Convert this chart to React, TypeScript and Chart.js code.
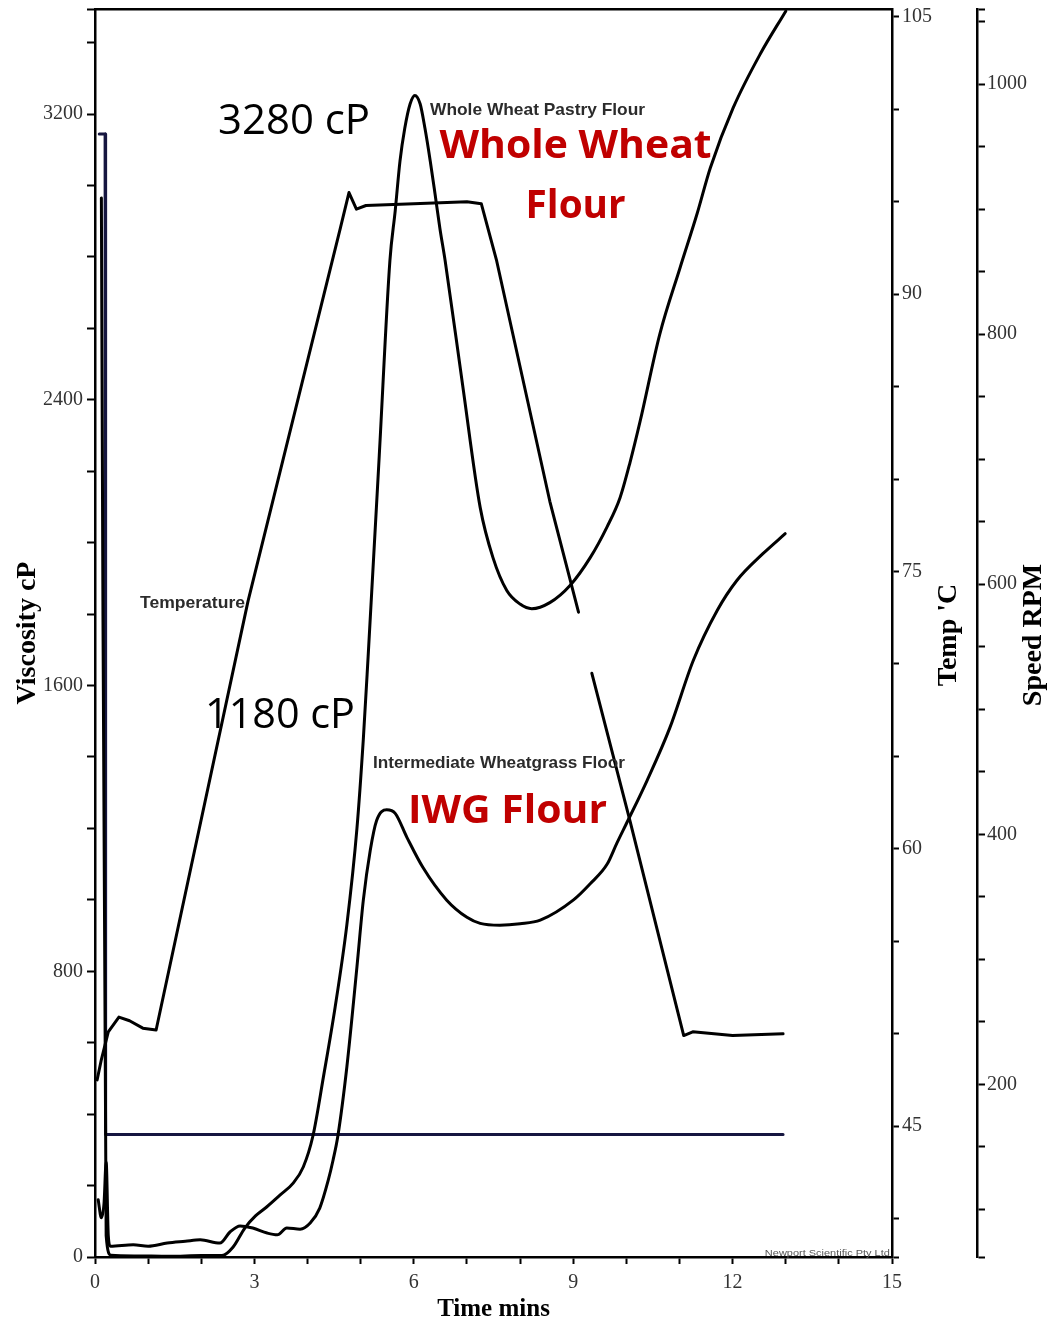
import React, { useEffect, useRef } from "react";
import { Chart, registerables } from "chart.js";

Chart.register(...registerables);

// ---------- data ----------
const timeTickLabels = [0, 3, 6, 9, 12, 15];
const viscTickLabels = [0, 800, 1600, 2400, 3200];
const tempTickLabels = [45, 60, 75, 90, 105];
const speedTickLabels = [200, 400, 600, 800, 1000];

// Whole Wheat Pastry Flour viscosity (cP) vs time (min)
const wwTime = [0.12, 0.21, 0.3, 0.8, 1.4, 2.0, 2.39, 2.6, 2.82, 3.02, 3.23, 3.48, 3.73, 3.92, 4.1, 4.3, 4.52, 4.74, 4.93, 5.05, 5.14, 5.35, 5.55, 5.65, 5.74, 5.83, 5.93, 6.02, 6.12, 6.21, 6.31, 6.4, 6.49, 6.59, 6.92, 7.25, 7.49, 7.75, 8.0, 8.22, 8.56, 8.94, 9.32, 9.64, 9.88, 10.07, 10.26, 10.63, 11.01, 11.33, 11.58, 12.01, 12.52, 13.0];
const wwVisc = [2965, 60, 5, 3, 2, 4, 4, 28, 81, 115, 140, 173, 207, 252, 338, 505, 700, 930, 1200, 1450, 1680, 2244, 2789, 2929, 3068, 3160, 3228, 3252, 3228, 3160, 3068, 2976, 2881, 2789, 2440, 2098, 1958, 1866, 1828, 1815, 1832, 1880, 1958, 2045, 2125, 2225, 2340, 2584, 2769, 2920, 3049, 3217, 3368, 3488];

// Intermediate Wheatgrass flour viscosity (cP) vs time (min)
const iwgTime = [0.06, 0.12, 0.17, 0.21, 0.25, 0.29, 0.72, 1.0, 1.36, 1.7, 1.98, 2.35, 2.54, 2.73, 2.97, 3.24, 3.43, 3.61, 3.86, 4.05, 4.23, 4.39, 4.48, 4.57, 4.74, 4.93, 5.05, 5.18, 5.3, 5.49, 5.65, 5.87, 6.17, 6.62, 7.0, 7.25, 7.62, 8.0, 8.38, 9.0, 9.32, 9.64, 9.82, 10.03, 10.39, 10.82, 11.26, 11.71, 12.08, 12.57, 12.99];
const iwgVisc = [160, 110, 150, 266, 60, 30, 34, 30, 39, 44, 48, 39, 70, 87, 81, 67, 62, 81, 78, 95, 137, 215, 271, 338, 532, 812, 999, 1138, 1222, 1252, 1242, 1175, 1091, 999, 951, 934, 929, 933, 943, 999, 1045, 1100, 1158, 1222, 1334, 1482, 1670, 1810, 1894, 1969, 2025];

// Temperature (°C) vs time (min); null = gap in the trace
const tempTime = [0.04, 0.12, 0.25, 0.45, 0.65, 0.9, 1.15, 2.88, 4.62, 4.78, 4.92, 5.1, 6.0, 7.0, 7.27, 7.56, 8.56, 9.1, 9.22, 9.35, 10.07, 10.67, 11.08, 11.25, 12.0, 12.95];
const tempValue: (number | null)[] = [47.5, 48.6, 50.1, 50.9, 50.7, 50.3, 50.2, 73.4, 93.6, 95.5, 94.6, 94.8, 94.9, 95.0, 94.9, 91.8, 78.8, 72.8, null, 69.5, 61.5, 54.6, 49.9, 50.1, 49.9, 50.0];

// Paddle speed (RPM) vs time (min)
const speedTime = [0.08, 0.19, 0.2, 12.95];
const speedValue = [960, 960, 160, 160];

// ---------- helpers ----------
const zip = (xs: number[], ys: (number | null)[]) => xs.map((x, i) => ({ x, y: ys[i] }));
const steps = (from: number, to: number, step: number) => {
  const out: number[] = [];
  for (let v = from; v <= to + 1e-9; v += step) out.push(Math.round(v * 1000) / 1000);
  return out;
};

const VISC_MAX = 3494;
const TEMP_MIN = 37.92;
const TEMP_MAX = 105.43;
const SPEED_MIN = 62;
const SPEED_MAX = 1060;

const xTickValues = steps(0, 15, 1);
const viscTickValues = [...steps(0, 3400, 200), VISC_MAX];
const tempTickValues = [TEMP_MIN, ...steps(40, 105, 5)];
const speedTickValues = [SPEED_MIN, ...steps(100, 1050, 50), SPEED_MAX];

const serif = '"Liberation Serif", "Times New Roman", serif';
const sans = '"Open Sans", "Noto Sans", sans-serif';
const arial = '"Liberation Sans", Arial, sans-serif';

type Note = { text: string; t: number; v: number; font: string; color: string; width: number; align: "left" | "center" | "right" };
const notes: Note[] = [
  { text: "3280 cP", t: 2.315, v: 3144, font: `42px ${sans}`, color: "#000", width: 152, align: "left" },
  { text: "1180 cP", t: 2.07, v: 1482, font: `42px ${sans}`, color: "#000", width: 150, align: "left" },
  { text: "Whole Wheat Pastry Flour", t: 6.305, v: 3197, font: `bold 17px ${arial}`, color: "#2b2b2b", width: 215, align: "left" },
  { text: "Whole Wheat", t: 9.045, v: 3077, font: `bold 40px ${sans}`, color: "#c00000", width: 272, align: "center" },
  { text: "Flour", t: 9.045, v: 2909, font: `bold 40px ${sans}`, color: "#c00000", width: 100, align: "center" },
  { text: "Temperature", t: 0.847, v: 1818, font: `bold 17px ${arial}`, color: "#2b2b2b", width: 105, align: "left" },
  { text: "Intermediate Wheatgrass Floor", t: 5.232, v: 1368, font: `bold 17px ${arial}`, color: "#2b2b2b", width: 252, align: "left" },
  { text: "IWG Flour", t: 5.891, v: 1214, font: `bold 40px ${sans}`, color: "#c00000", width: 199, align: "left" },
  { text: "Newport Scientific Pty Ltd", t: 14.96, v: 4, font: `9px ${arial}`, color: "#555", width: 125, align: "right" },
];

function drawFit(ctx: CanvasRenderingContext2D, text: string, x: number, y: number, font: string, color: string, width: number, align: string) {
  ctx.save();
  ctx.font = font;
  ctx.fillStyle = color;
  ctx.textBaseline = "alphabetic";
  ctx.textAlign = "left";
  const w = ctx.measureText(text).width || 1;
  const sx = width ? width / w : 1;
  const dw = w * sx;
  const left = align === "center" ? x - dw / 2 : align === "right" ? x - dw : x;
  ctx.translate(left, y);
  ctx.scale(sx, 1);
  ctx.fillText(text, 0, 0);
  ctx.restore();
}

function drawVertical(ctx: CanvasRenderingContext2D, text: string, cx: number, cy: number, font: string) {
  ctx.save();
  ctx.translate(cx, cy);
  ctx.rotate(-Math.PI / 2);
  ctx.font = font;
  ctx.fillStyle = "#000";
  ctx.textAlign = "center";
  ctx.textBaseline = "middle";
  ctx.fillText(text, 0, 0);
  ctx.restore();
}

const overlayPlugin = {
  id: "overlay",
  afterDraw(chart: any) {
    const ctx: CanvasRenderingContext2D = chart.ctx;
    const xs = chart.scales.x;
    const ys = chart.scales.y;
    for (const n of notes) {
      drawFit(ctx, n.text, xs.getPixelForValue(n.t), ys.getPixelForValue(n.v), n.font, n.color, n.width, n.align);
    }
    const yT = chart.scales.yTemp;
    const yS = chart.scales.ySpeed;
    drawVertical(ctx, "Temp 'C", yT.left + 57, (yT.top + yT.bottom) / 2 + 2, `bold 28px ${serif}`);
    drawVertical(ctx, "Speed RPM", yS.left + 57, (yS.top + yS.bottom) / 2 + 2, `bold 28px ${serif}`);
  },
};

const xTickFont = { family: serif, size: 20 };
const yTickFont = { family: serif, size: 20, lineHeight: 0.5 };
const border = { display: true, color: "#000", width: 2.5 };
const tickGrid = (len: number) => ({ display: true, drawOnChartArea: false, drawTicks: true, tickLength: len, tickColor: "#000", tickWidth: 2 });
const labelIf = (list: number[]) => (v: any) => (list.includes(Number(v)) ? String(v) : "");

export default function App() {
  const ref = useRef<HTMLCanvasElement>(null);
  useEffect(() => {
    const canvas = ref.current;
    if (!canvas) return;
    const lineStyle = { pointRadius: 0, borderWidth: 3, fill: false };
    const chart = new Chart(canvas, {
      type: "line",
      data: {
        datasets: [
          { label: "Whole Wheat Pastry Flour", data: zip(wwTime, wwVisc), yAxisID: "y", borderColor: "#000", cubicInterpolationMode: "monotone", ...lineStyle },
          { label: "Intermediate Wheatgrass Flour", data: zip(iwgTime, iwgVisc), yAxisID: "y", borderColor: "#000", cubicInterpolationMode: "monotone", ...lineStyle },
          { label: "Temperature", data: zip(tempTime, tempValue), yAxisID: "yTemp", borderColor: "#000", tension: 0, spanGaps: false, ...lineStyle },
          { label: "Speed", data: zip(speedTime, speedValue), yAxisID: "ySpeed", borderColor: "#161640", tension: 0, ...lineStyle },
        ] as any,
      },
      options: {
        responsive: false,
        animation: false,
        devicePixelRatio: 1,
        layout: { padding: 0 },
        plugins: { legend: { display: false }, tooltip: { enabled: false } },
        elements: { line: { borderJoinStyle: "round", borderCapStyle: "round" } },
        scales: {
          x: {
            type: "linear",
            position: "bottom",
            min: 0,
            max: 15,
            afterBuildTicks: (s: any) => { s.ticks = xTickValues.map((v) => ({ value: v })); },
            afterFit: (s: any) => { s.height = 66; },
            ticks: { autoSkip: false, maxRotation: 0, padding: 7, font: xTickFont, color: "#333", callback: labelIf(timeTickLabels) },
            grid: tickGrid(7),
            border,
            title: { display: true, text: "Time mins", color: "#000", font: { family: serif, size: 25, weight: "bold", lineHeight: 1 }, padding: { top: 0, bottom: 0.5 } },
          },
          x2: {
            type: "linear",
            position: "top",
            min: 0,
            max: 15,
            afterFit: (s: any) => { s.height = 8; },
            ticks: { display: false },
            grid: { display: true, drawOnChartArea: false, drawTicks: false },
            border,
          },
          y: {
            type: "linear",
            position: "left",
            min: 0,
            max: VISC_MAX,
            afterBuildTicks: (s: any) => { s.ticks = viscTickValues.map((v) => ({ value: v })); },
            afterFit: (s: any) => { s.width = 95; },
            ticks: { autoSkip: false, padding: 4, font: yTickFont, color: "#333", callback: labelIf(viscTickLabels) },
            grid: tickGrid(8),
            border,
            title: { display: true, text: "Viscosity cP", color: "#000", font: { family: serif, size: 28, weight: "bold", lineHeight: 1 }, padding: { top: 14, bottom: 0 } },
          },
          yTemp: {
            type: "linear",
            position: "right",
            weight: 0,
            min: TEMP_MIN,
            max: TEMP_MAX,
            afterBuildTicks: (s: any) => { s.ticks = tempTickValues.map((v) => ({ value: v })); },
            afterFit: (s: any) => { s.width = 85; },
            ticks: { autoSkip: false, padding: 3, font: yTickFont, color: "#333", callback: labelIf(tempTickLabels) },
            grid: tickGrid(7),
            border,
          },
          ySpeed: {
            type: "linear",
            position: "right",
            weight: 1,
            min: SPEED_MIN,
            max: SPEED_MAX,
            afterBuildTicks: (s: any) => { s.ticks = speedTickValues.map((v) => ({ value: v })); },
            afterFit: (s: any) => { s.width = 81; },
            ticks: { autoSkip: false, padding: 2, font: yTickFont, color: "#333", callback: labelIf(speedTickLabels) },
            grid: tickGrid(8),
            border,
          },
        },
      } as any,
      plugins: [overlayPlugin],
    });
    return () => chart.destroy();
  }, []);

  return (
    <div style={{ position: "absolute", left: 0, top: 0, width: 1058, height: 1323, background: "#fff" }}>
      <canvas ref={ref} width={1058} height={1323} style={{ display: "block", width: 1058, height: 1323 }} />
    </div>
  );
}
